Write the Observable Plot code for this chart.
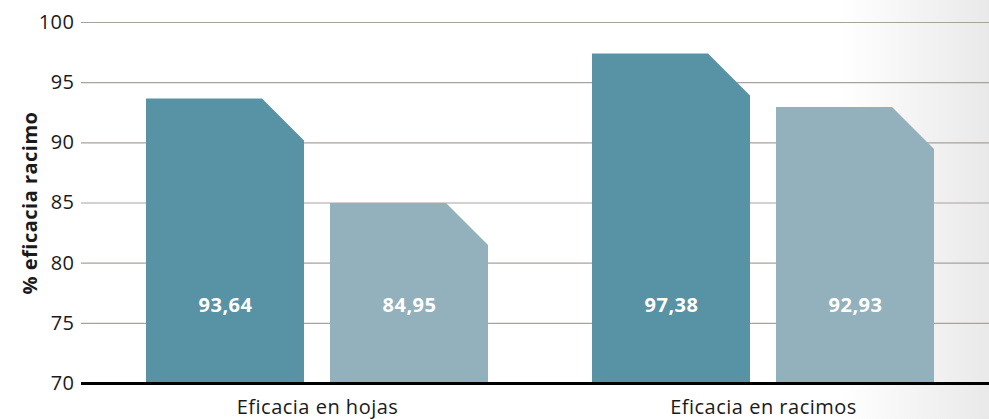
<!DOCTYPE html>
<html>
<head>
<meta charset="utf-8">
<script src="https://cdn.jsdelivr.net/npm/d3@7"></script>
<script src="https://cdn.jsdelivr.net/npm/@observablehq/plot@0.6"></script>
<style>
  html, body { margin: 0; padding: 0; }
  body { width: 989px; height: 419px; overflow: hidden;
         background: linear-gradient(to right, #ffffff 0%, #ffffff 85%, #e8e9e8 100%); }
  #chart svg { display: block; background: transparent !important; }
  #chart svg text { letter-spacing: 0.5px; }
</style>
</head>
<body>
<div id="chart"></div>
<script>
const groups = ["Eficacia en hojas", "Eficacia en racimos"];
const seriesA = [93.64, 97.38];
const seriesB = [84.95, 92.93];
const yTicks = [70, 75, 80, 85, 90, 95, 100];
const yLabel = "% eficacia racimo";

const dataA = groups.map((g, i) => ({group: g, value: seriesA[i]}));
const dataB = groups.map((g, i) => ({group: g, value: seriesB[i]}));
const fmt = d => d.value.toFixed(2).replace(".", ",");

const colorA = "#5793a5";
const colorB = "#93b1bc";

const chart = Plot.plot({
  width: 989,
  height: 419,
  marginTop: 22,
  marginBottom: 36,
  marginLeft: 81,
  marginRight: 0,
  style: {fontFamily: "'Open Sans', sans-serif", fontSize: "20px", color: "#1a1a1a", background: "transparent"},
  x: {domain: groups, range: [146, 934], paddingInner: 0.2332, paddingOuter: 0, label: null, tickSize: 0, tickPadding: 16},
  y: {domain: [70, 100], ticks: yTicks, label: null, tickSize: 0, tickPadding: 7},
  marks: [
    Plot.ruleY(yTicks.slice(1), {stroke: "#a8a29c", strokeWidth: 1.2}),
    Plot.barY(dataA, {x: "group", y1: 70, y2: "value", fill: colorA, insetRight: 184}),
    Plot.barY(dataB, {x: "group", y1: 70, y2: "value", fill: colorB, insetLeft: 184}),
    Plot.ruleY([70], {stroke: "#000", strokeWidth: 3}),
    Plot.text(dataA, {x: "group", text: fmt, frameAnchor: "bottom", lineAnchor: "middle", dy: -78, dx: -92, fill: "white", fontWeight: "bold", fontSize: 20}),
    Plot.text(dataB, {x: "group", text: fmt, frameAnchor: "bottom", lineAnchor: "middle", dy: -78, dx: 92, fill: "white", fontWeight: "bold", fontSize: 20}),
    Plot.text([yLabel], {text: d => d, frameAnchor: "left", textAnchor: "middle", rotate: -90, dx: -51, fontWeight: "bold", fontSize: 20, fill: "#1a1a1a"})
  ]
});

// Cut the top-right corner of each bar
const cut = 42;
chart.querySelectorAll('g[aria-label="bar"] rect').forEach(r => {
  const x = +r.getAttribute("x"), y = +r.getAttribute("y");
  const w = +r.getAttribute("width"), h = +r.getAttribute("height");
  const p = document.createElementNS("http://www.w3.org/2000/svg", "path");
  p.setAttribute("d", `M${x},${y + h}L${x},${y}L${x + w - cut},${y}L${x + w},${y + cut}L${x + w},${y + h}Z`);
  for (const a of ["fill", "transform"]) if (r.hasAttribute(a)) p.setAttribute(a, r.getAttribute(a));
  r.replaceWith(p);
});
chart.style.background = "transparent";
document.getElementById("chart").appendChild(chart);
</script>
</body>
</html>
